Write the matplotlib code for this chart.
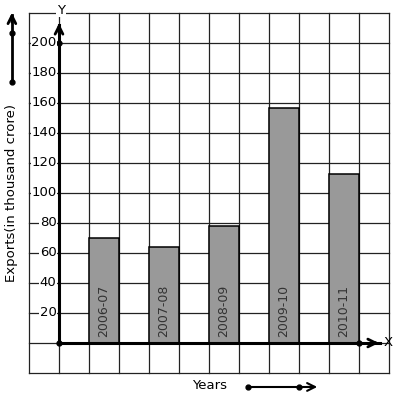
import matplotlib
matplotlib.use("Agg")
import matplotlib.pyplot as plt

# data
years = ["2006-07", "2007-08", "2008-09", "2009-10", "2010-11"]
exports = [70, 64, 78, 157, 113]
bar_pos = [1, 3, 5, 7, 9]
y_ticks = [20, 40, 60, 80, 100, 120, 140, 160, 180, 200]

W, H = 397, 399
fig = plt.figure(figsize=(W / 100, H / 100), dpi=100)
ax = fig.add_axes([0, 0, 1, 1])
# pixel -> data: x = (px-59)/30, y = (343-py)*20/30
ax.set_xlim(-59 / 30, (W - 59) / 30)
ax.set_ylim((343 - H) * 2 / 3, 343 * 2 / 3)
ax.axis("off")

# graph paper grid
for gx in range(-1, 12):
    ax.plot([gx, gx], [-20, 220], color="#222222", lw=0.9, zorder=1)
for gy in range(-20, 221, 20):
    ax.plot([-1, 11], [gy, gy], color="#222222", lw=0.9, zorder=1)

# bars
ax.bar(bar_pos, exports, width=1, align="edge", color="#999999",
       edgecolor="black", linewidth=1.1, zorder=2)
for x, lab in zip(bar_pos, years):
    ax.text(x + 0.5, 4, lab, rotation=90, ha="center", va="bottom",
            fontsize=9, color="#333333", zorder=3)

# axes with arrows
ax.plot([0, 0], [0, 212], color="black", lw=2.2, zorder=4)
ax.plot([0, 10.7], [0, 0], color="black", lw=2.2, zorder=4)
ax.annotate("", xy=(0, 215), xytext=(0, 205),
            arrowprops=dict(arrowstyle="->", lw=2, color="black",
                            mutation_scale=14), zorder=4)
ax.annotate("", xy=(10.75, 0), xytext=(10.4, 0),
            arrowprops=dict(arrowstyle="->", lw=2, color="black",
                            mutation_scale=14), zorder=4)
ax.plot([0, 0, 10], [0, 200, 0], "o", color="black", ms=3.5, zorder=5)
ax.text(0.07, 222, "Y", ha="center", va="center", fontsize=9.5,
        bbox=dict(fc="white", ec="none", pad=0.5), zorder=5)
ax.text(10.98, 0.5, "X", ha="center", va="center", fontsize=9.5, zorder=5)

# tick labels
for t in y_ticks:
    ax.text(-0.08, t, str(t), ha="right", va="center", fontsize=9.5,
            bbox=dict(fc="white", ec="none", pad=0.3), zorder=5)

# axis titles
ax.text(-1.57, 100, "Exports(in thousand crore)", rotation=90,
        ha="center", va="center", fontsize=9.5)
ax.text(5.03, -28.5, "Years", ha="center", va="center", fontsize=9.5)

# decorative arrows
ax.plot([-1.57, -1.57], [174, 219], color="black", lw=2, zorder=4)
ax.annotate("", xy=(-1.57, 222), xytext=(-1.57, 212),
            arrowprops=dict(arrowstyle="->", lw=2, color="black",
                            mutation_scale=14))
ax.plot([-1.57, -1.57], [174, 207], "o", color="black", ms=3.5)
ax.plot([6.3, 8.5], [-29.3, -29.3], color="black", lw=1.5)
ax.annotate("", xy=(8.7, -29.3), xytext=(8.2, -29.3),
            arrowprops=dict(arrowstyle="->", lw=1.5, color="black",
                            mutation_scale=14))
ax.plot([6.3, 8.0], [-29.3, -29.3], "o", color="black", ms=3.5)

fig.savefig("out.png", dpi=100, facecolor="white")
